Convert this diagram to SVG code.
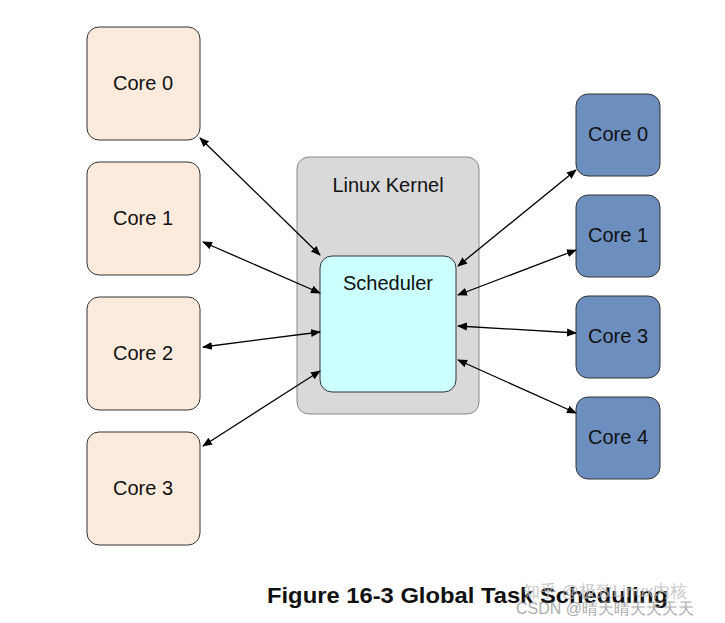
<svg xmlns="http://www.w3.org/2000/svg" width="725" height="623" viewBox="0 0 725 623">
<style>
text{font-family:"Liberation Sans",Arial,sans-serif;font-size:20px;fill:#111;text-anchor:middle}
.lc{fill:#fcebdd;stroke:#333;stroke-width:1}
.rc{fill:#6d8fbf;stroke:#333;stroke-width:1}
.cn line{stroke:#000;stroke-width:1.3;marker-start:url(#a);marker-end:url(#a)}
</style>
<defs><marker id="a" viewBox="0 0 10 10" refX="9" refY="5" markerWidth="10" markerHeight="10" markerUnits="userSpaceOnUse" orient="auto-start-reverse"><path d="M0,1 L10,5 L0,9 z" fill="#000"/></marker></defs>
<rect width="725" height="623" fill="#fff"/>
<g id="kernel"><rect x="297" y="157" width="182" height="257" rx="12" fill="#d9d9d9" stroke="#888"/><text x="388" y="192">Linux Kernel</text></g>
<g id="scheduler"><rect x="320" y="256" width="136" height="136" rx="12" fill="#ccffff" stroke="#333"/><text x="388" y="290">Scheduler</text></g>
<g id="l0"><rect class="lc" x="87" y="27" width="113" height="113" rx="12"/><text x="143" y="90">Core 0</text></g>
<g id="l1"><rect class="lc" x="87" y="162" width="113" height="113" rx="12"/><text x="143" y="225">Core 1</text></g>
<g id="l2"><rect class="lc" x="87" y="297" width="113" height="113" rx="12"/><text x="143" y="360">Core 2</text></g>
<g id="l3"><rect class="lc" x="87" y="432" width="113" height="113" rx="12"/><text x="143" y="495">Core 3</text></g>
<g id="r0"><rect class="rc" x="576" y="94" width="84" height="82" rx="12"/><text x="618" y="141">Core 0</text></g>
<g id="r1"><rect class="rc" x="576" y="195" width="84" height="82" rx="12"/><text x="618" y="242">Core 1</text></g>
<g id="r3"><rect class="rc" x="576" y="296" width="84" height="82" rx="12"/><text x="618" y="343">Core 3</text></g>
<g id="r4"><rect class="rc" x="576" y="397" width="84" height="82" rx="12"/><text x="618" y="444">Core 4</text></g>
<g class="cn">
<line x1="200" y1="138" x2="320" y2="255"/>
<line x1="203" y1="242" x2="320" y2="293"/>
<line x1="203" y1="347" x2="320" y2="332"/>
<line x1="203" y1="446" x2="320" y2="371"/>
<line x1="576" y1="170" x2="458" y2="266"/>
<line x1="576" y1="250" x2="458" y2="295"/>
<line x1="576" y1="333" x2="458" y2="326"/>
<line x1="576" y1="413" x2="458" y2="360"/>
</g>
<text x="267" y="603" textLength="401" lengthAdjust="spacingAndGlyphs" style="font-weight:bold;font-size:22px;text-anchor:start">Figure 16-3 Global Task Scheduling</text>
<text x="605" y="597" style="font-size:17px;fill:#bbb;opacity:0.8">知乎 @极致Linux内核</text>
<text x="605" y="614" style="font-size:16px;fill:#999;opacity:0.8">CSDN @晴天晴天天天天</text>
</svg>
